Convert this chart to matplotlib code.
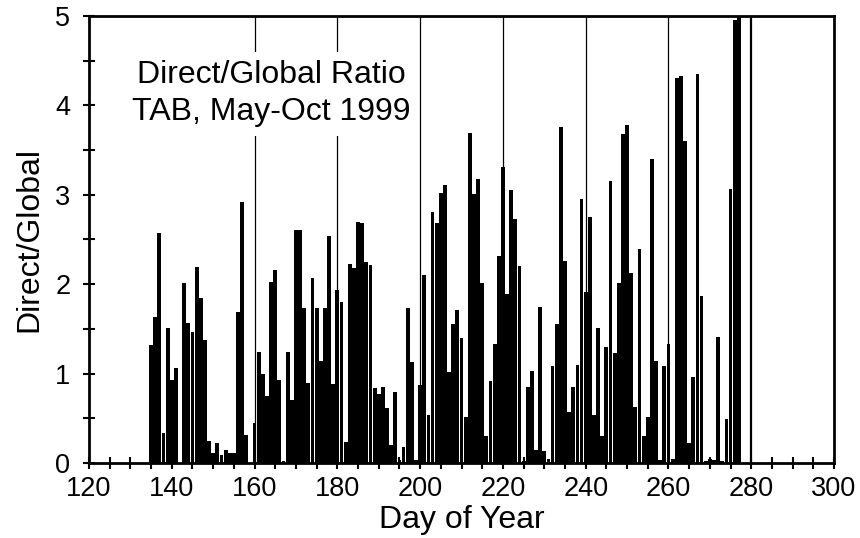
import matplotlib
matplotlib.use("Agg")
import matplotlib.pyplot as plt
from matplotlib.ticker import MultipleLocator

# daily direct/global ratio, TAB May-Oct 1999
days = list(range(135, 278))
ratio = [1.32, 1.63, 2.57, 0.34, 1.51, 0.93, 1.06, 0.00, 2.01, 1.57,   # 135-144
         1.46, 2.19, 1.84, 1.38, 0.25, 0.11, 0.22, 0.09, 0.15, 0.11,   # 145-154
         0.11, 1.69, 2.92, 0.31, 0.00, 0.45, 1.24, 1.00, 0.75, 2.02,   # 155-164
         2.16, 0.93, 0.02, 1.24, 0.70, 2.61, 2.61, 1.73, 0.90, 2.07,   # 165-174
         1.73, 1.14, 1.73, 2.54, 0.88, 1.94, 1.80, 0.23, 2.23, 2.18,   # 175-184
         2.70, 2.68, 2.25, 2.21, 0.84, 0.77, 0.85, 0.61, 0.20, 0.79,   # 185-194
         0.03, 0.18, 1.73, 1.13, 0.03, 0.87, 2.10, 0.54, 2.81, 2.68,   # 195-204
         3.02, 3.11, 1.02, 1.55, 1.71, 1.40, 0.52, 3.69, 3.01, 3.18,   # 205-214
         2.01, 0.30, 0.92, 1.33, 2.31, 3.31, 1.89, 3.05, 2.73, 2.20,   # 215-224
         0.02, 0.85, 1.03, 0.14, 1.75, 0.13, 0.05, 1.08, 1.56, 3.76,   # 225-234
         2.26, 0.57, 0.85, 1.10, 2.95, 1.91, 2.75, 0.54, 1.51, 0.30,   # 235-244
         1.30, 3.15, 1.23, 2.01, 3.68, 3.78, 2.12, 0.63, 2.39, 0.30,   # 245-254
         0.52, 3.40, 1.14, 0.03, 1.08, 1.33, 0.05, 4.31, 4.33, 3.60,   # 255-264
         0.22, 0.96, 4.35, 1.87, 0.02, 0.05, 0.03, 1.41, 0.02, 0.49,   # 265-274
         3.07, 4.95, 5.00]                                             # 275-277

grid_days = [160, 180, 200, 220, 240, 260]
end_day = 280

plt.rcParams['font.family'] = ['Liberation Sans', 'DejaVu Sans']

fig = plt.figure(figsize=(8.6, 5.38), dpi=100)
ax = fig.add_axes([0.1035, 0.1394, 0.8663, 0.8309])

for d in grid_days:
    ax.axvline(d, color='black', lw=0.9, zorder=1)
ax.axvline(end_day, color='black', lw=1.6, zorder=1)

ax.bar(days, ratio, width=0.92, color='black', zorder=2)

ax.set_xlim(120, 300)
ax.set_ylim(0, 5)
ax.xaxis.set_major_locator(MultipleLocator(20))
ax.xaxis.set_minor_locator(MultipleLocator(5))
ax.yaxis.set_major_locator(MultipleLocator(1))
ax.yaxis.set_minor_locator(MultipleLocator(0.5))
ax.tick_params(which='both', direction='inout', length=9, width=1.5,
               labelsize=19.5)
ax.tick_params(axis='x', pad=5)
ax.tick_params(axis='y', pad=9)
for s in ax.spines.values():
    s.set_linewidth(2)

ax.set_xlabel('Day of Year', fontsize=23, labelpad=2)
ax.set_ylabel('Direct/Global', fontsize=23, labelpad=8)

ax.text(164.0, 4.13, 'Direct/Global Ratio\nTAB, May-Oct 1999', fontsize=23,
        ha='center', va='center', linespacing=1.3, zorder=3,
        bbox=dict(fc='white', ec='none', pad=6))

fig.savefig('out.png', dpi=100)
